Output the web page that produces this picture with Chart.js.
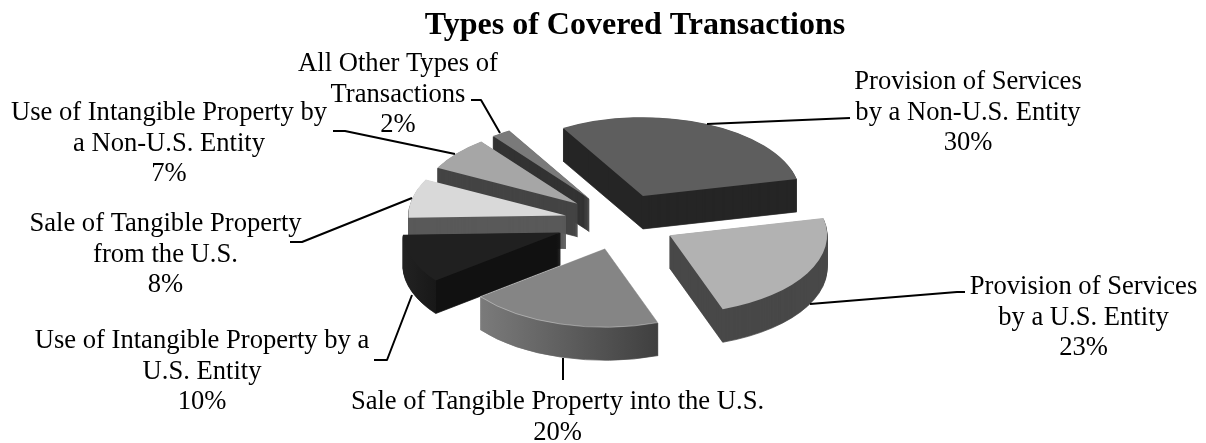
<!DOCTYPE html>
<html>
<head>
<meta charset="utf-8">
<style>html,body{margin:0;padding:0;background:#fff}canvas{display:block}</style>
<script src="https://cdn.jsdelivr.net/npm/chart.js@4"></script>
</head>
<body>
<canvas id="c" width="1206" height="443"></canvas>
<script>
const categories = [
  "Provision of Services by a Non-U.S. Entity",
  "Provision of Services by a U.S. Entity",
  "Sale of Tangible Property into the U.S.",
  "Use of Intangible Property by a U.S. Entity",
  "Sale of Tangible Property from the U.S.",
  "Use of Intangible Property by a Non-U.S. Entity",
  "All Other Types of Transactions"
];
const shares = [30, 23, 20, 10, 8, 7, 2];
const labelLines = [
  ["Provision of Services", "by a Non-U.S. Entity"],
  ["Provision of Services", "by a U.S. Entity"],
  ["Sale of Tangible Property into the U.S."],
  ["Use of Intangible Property by a", "U.S. Entity"],
  ["Sale of Tangible Property", "from the U.S."],
  ["Use of Intangible Property by", "a Non-U.S. Entity"],
  ["All Other Types of", "Transactions"]
];
const topColors = ["#5e5e5e", "#b2b2b2", "#858585", "#202020", "#d9d9d9", "#a6a6a6", "#7a7a7a"];
const wallFills = [
  "#262626", "#484848",
  [[0.11, "#7a7a7a"], [0.68, "#3e3e3e"]],
  [[0, "#222222"], [0.105, "#181818"], [0.105, "#111111"], [0.5, "#111111"]],
  "#595959", "#444444", "#333333"
];
const explode = [56, 56, 56, 64, 56, 56, 56];
const drawOrder = [6, 5, 4, 3, 0, 1, 2];
const labelAnchors = [[968, 82], [1083.5, 287], [557.5, 402], [202, 341], [165.5, 224], [169, 113], [398, 64]];
const leaders = [
  [[707, 124], [850, 118]],
  [[810, 304], [957, 292], [965, 292]],
  [[563, 358], [563, 380]],
  [[412, 295], [387, 360], [374, 360]],
  [[412, 198], [302, 242], [290, 242]],
  [[455, 154], [345, 131], [333, 131]],
  [[500, 133], [481, 100], [471, 100]]
];
const planeCenter = {x: 620.6, y: 221.6};
const squash = 0.5, depth = 33;
const serif = '"Liberation Serif", "Times New Roman", serif';
const labelSize = 26.6, lineStep = 30.7;

const pie3d = {
  id: "pie3d",
  beforeDatasetDraw(chart, args) {
    const ctx = chart.ctx;
    const arcs = chart.getDatasetMeta(args.index).data;
    const placed = (arc, i, drop) => {
      const mid = (arc.startAngle + arc.endAngle) / 2;
      ctx.translate(planeCenter.x, planeCenter.y + drop);
      ctx.scale(1, squash);
      ctx.translate(Math.cos(mid) * explode[i] - arc.x, Math.sin(mid) * explode[i] - arc.y);
    };
    drawOrder.forEach(i => {
      const arc = arcs[i], base = arc.options;
      const r = arc.outerRadius;
      let fill = wallFills[i];
      if (Array.isArray(fill)) {
        const g = ctx.createLinearGradient(arc.x - r, 0, arc.x + r, 0);
        fill.forEach(s => g.addColorStop(s[0], s[1]));
        fill = g;
      }
      const wallOpts = Object.create(base);
      wallOpts.backgroundColor = fill;
      wallOpts.borderColor = fill;
      wallOpts.borderWidth = 1;
      arc.options = wallOpts;
      for (let k = depth; k >= 1; k--) {
        ctx.save(); placed(arc, i, k); arc.draw(ctx); ctx.restore();
      }
      arc.options = base;
      ctx.save(); placed(arc, i, 0); arc.draw(ctx); ctx.restore();
    });
    return false;
  },
  afterDraw(chart) {
    const ctx = chart.ctx;
    ctx.save();
    ctx.strokeStyle = "#000"; ctx.lineWidth = 2; ctx.lineJoin = "round";
    leaders.forEach(pts => {
      ctx.beginPath();
      pts.forEach((p, j) => j ? ctx.lineTo(p[0], p[1]) : ctx.moveTo(p[0], p[1]));
      ctx.stroke();
    });
    ctx.fillStyle = "#000"; ctx.textAlign = "center"; ctx.textBaseline = "middle";
    ctx.font = labelSize + "px " + serif;
    labelLines.forEach((lines, i) => {
      const all = lines.concat([shares[i] + "%"]);
      all.forEach((t, j) => ctx.fillText(t, labelAnchors[i][0], labelAnchors[i][1] + j * lineStep));
    });
    ctx.restore();
  }
};

new Chart(document.getElementById("c"), {
  type: "pie",
  data: {
    labels: categories,
    datasets: [{
      data: shares,
      backgroundColor: topColors,
      borderWidth: [0, 0, 1, 0, 0, 0, 0],
      borderColor: "rgba(255,255,255,0.45)"
    }]
  },
  options: {
    responsive: false,
    animation: false,
    events: [],
    rotation: -30.5,
    radius: 157.5,
    layout: {padding: {left: 64}},
    plugins: {
      legend: {display: false},
      tooltip: {enabled: false},
      title: {
        display: true,
        text: "Types of Covered Transactions",
        color: "#000",
        font: {family: serif, size: 32, weight: "bold"},
        padding: {top: 7, bottom: 1}
      }
    }
  },
  plugins: [pie3d]
});
</script>
</body>
</html>
